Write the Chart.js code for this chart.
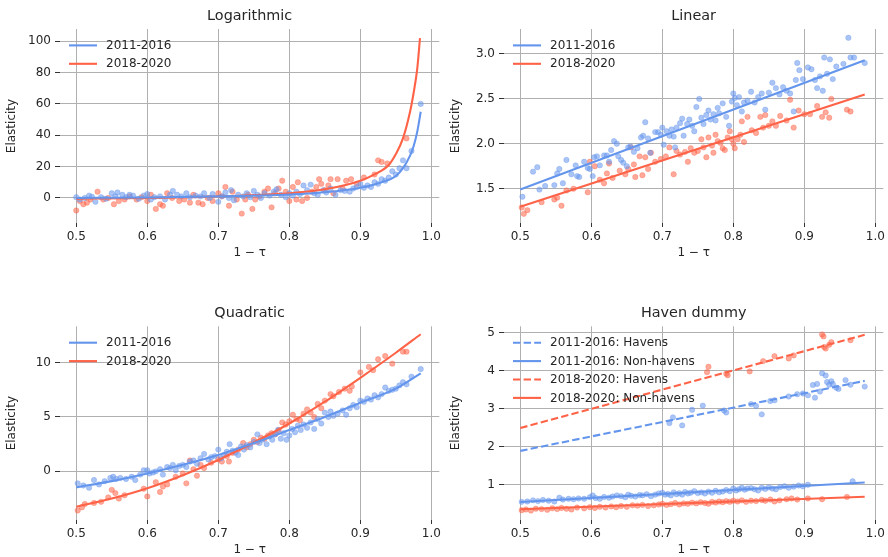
<!DOCTYPE html>
<html>
<head>
<meta charset="utf-8">
<script src="https://cdn.jsdelivr.net/npm/chart.js@4.4.1/dist/chart.umd.min.js"></script>
<style>
  body { margin: 0; background: #fff; width: 888px; height: 557px; position: relative; overflow: hidden; }
  canvas { position: absolute; }
</style>
</head>
<body>
<canvas id="logChart" width="444" height="278" style="left:0;top:0"></canvas>
<canvas id="linChart" width="444" height="278" style="left:444px;top:0"></canvas>
<canvas id="quadChart" width="444" height="279" style="left:0;top:278px"></canvas>
<canvas id="havenChart" width="444" height="279" style="left:444px;top:278px"></canvas>
<script>
// ---- data ----
const xTicks = [0.5, 0.6, 0.7, 0.8, 0.9, 1.0];
const logTicks = [0, 20, 40, 60, 80, 100];
const linTicks = [1.5, 2.0, 2.5, 3.0];
const quadTicks = [0, 5, 10];
const havenTicks = [1, 2, 3, 4, 5];

// Logarithmic
const logFit2011 = [[0.5,0],[0.6,0.3],[0.7,1],[0.8,2.2],[0.85,3.6],[0.9,6.5],[0.93,10],[0.95,14],[0.96,19],[0.97,27],[0.975,33],[0.98,42],[0.985,55]];
const logFit2018 = [[0.5,-0.5],[0.6,0],[0.7,1],[0.8,3],[0.85,5.5],[0.9,11],[0.92,15],[0.94,21],[0.95,28],[0.96,38],[0.97,55],[0.975,67],[0.98,82],[0.984,102]];
const logPts2011 = [[0.500,0.5],[0.505,-1],[0.512,0],[0.518,1.5],[0.522,0.8],[0.527,-2.5],[0.535,0.5],[0.542,-0.5],[0.550,3],[0.555,1],[0.558,3.5],[0.565,2],[0.570,0.5],[0.575,2],[0.580,1.5],[0.588,-0.5],[0.595,1.5],[0.600,2.5],[0.605,-1],[0.610,0.5],[0.618,1],[0.625,-1],[0.632,2],[0.636,4.5],[0.642,2],[0.648,1],[0.655,3],[0.660,0.5],[0.668,1.5],[0.675,1],[0.680,3],[0.688,0],[0.692,2.5],[0.700,-2.5],[0.705,1],[0.710,3.5],[0.715,0],[0.718,5],[0.722,-1.5],[0.728,2],[0.735,1],[0.740,3],[0.745,0.5],[0.750,4.5],[0.755,2],[0.760,0],[0.765,3],[0.772,1.5],[0.778,4],[0.782,5.5],[0.788,2],[0.795,0.5],[0.800,3],[0.805,1.5],[0.810,4],[0.815,2.5],[0.820,8],[0.825,5],[0.830,8.5],[0.835,3],[0.840,2],[0.848,5],[0.852,3.5],[0.858,6],[0.865,2],[0.872,5],[0.878,4.5],[0.885,4],[0.890,6],[0.895,7],[0.900,9],[0.905,6.5],[0.910,8],[0.915,7],[0.920,10],[0.925,9],[0.930,12],[0.935,11],[0.940,13],[0.945,17],[0.950,15],[0.955,19],[0.960,24],[0.965,19],[0.972,30],[0.985,60]];
const logPts2018 = [[0.500,-8],[0.505,-2],[0.510,-4],[0.515,-3],[0.520,-1],[0.530,4],[0.538,-1],[0.545,0],[0.553,-4],[0.560,-2],[0.568,-1],[0.575,1],[0.585,-1],[0.592,0.5],[0.600,-2],[0.605,2],[0.612,-7],[0.618,-4],[0.622,-5],[0.628,3],[0.635,0],[0.645,-2],[0.652,-1],[0.660,-3],[0.665,2],[0.672,-3],[0.678,-4],[0.685,0],[0.692,-2],[0.700,3],[0.705,1],[0.710,7],[0.715,-5],[0.720,4],[0.726,-1],[0.733,-10],[0.738,-1],[0.742,2],[0.748,-7],[0.752,-1],[0.758,1],[0.765,4],[0.770,6],[0.775,-6],[0.780,3],[0.785,6],[0.790,11],[0.795,4],[0.800,-2],[0.805,7],[0.810,-1],[0.812,10],[0.818,-2],[0.825,0],[0.832,4],[0.838,7],[0.842,12],[0.845,9],[0.850,5],[0.855,8],[0.858,12],[0.862,3],[0.868,12],[0.875,6],[0.880,11],[0.887,12],[0.895,9],[0.905,13],[0.920,15],[0.925,24],[0.930,23],[0.938,22],[0.965,38]];

// Linear
const linFit2011 = [[0.5,1.49],[0.985,2.93]];
const linFit2018 = [[0.5,1.30],[0.985,2.55]];
const linPts2011 = [[0.503,1.41],[0.518,1.69],[0.524,1.74],[0.527,1.49],[0.535,1.53],[0.548,1.54],[0.552,1.67],[0.555,1.72],[0.560,1.56],[0.565,1.82],[0.572,1.66],[0.578,1.76],[0.580,1.64],[0.583,1.63],[0.590,1.80],[0.595,1.73],[0.598,1.72],[0.602,1.64],[0.604,1.85],[0.608,1.86],[0.612,1.76],[0.618,1.87],[0.622,1.87],[0.625,1.80],[0.628,1.93],[0.632,2.03],[0.636,2.00],[0.638,1.86],[0.642,1.82],[0.645,1.79],[0.650,1.75],[0.652,1.96],[0.655,1.97],[0.660,1.91],[0.665,1.95],[0.670,2.07],[0.673,2.09],[0.676,2.24],[0.680,2.06],[0.683,1.90],[0.690,2.13],[0.694,2.13],[0.698,2.10],[0.700,2.18],[0.702,1.99],[0.706,2.14],[0.710,2.09],[0.713,2.16],[0.716,2.08],[0.718,1.96],[0.720,2.18],[0.725,2.23],[0.728,2.28],[0.730,2.09],[0.735,2.22],[0.738,2.27],[0.742,2.20],[0.745,2.14],[0.748,2.41],[0.752,2.50],[0.755,2.29],[0.758,2.22],[0.762,2.32],[0.765,2.37],[0.768,2.27],[0.772,2.33],[0.775,2.26],[0.778,2.40],[0.780,2.34],[0.785,2.45],[0.790,2.30],[0.794,2.20],[0.798,2.47],[0.800,2.56],[0.802,2.51],[0.805,2.43],[0.808,2.52],[0.812,2.36],[0.815,2.46],[0.820,2.48],[0.825,2.58],[0.830,2.46],[0.835,2.52],[0.840,2.56],[0.845,2.38],[0.850,2.57],[0.855,2.68],[0.860,2.62],[0.865,2.55],[0.870,2.63],[0.875,2.59],[0.880,2.56],[0.885,2.36],[0.888,2.71],[0.890,2.90],[0.893,2.82],[0.898,2.72],[0.905,2.85],[0.910,2.83],[0.915,2.71],[0.918,2.62],[0.922,2.75],[0.926,2.59],[0.928,2.96],[0.932,2.78],[0.936,2.94],[0.940,2.72],[0.945,2.86],[0.955,2.89],[0.962,3.18],[0.965,2.96],[0.970,2.96],[0.985,2.90]];
const linPts2018 = [[0.502,1.29],[0.505,1.22],[0.510,1.26],[0.530,1.35],[0.548,1.38],[0.552,1.40],[0.558,1.31],[0.565,1.48],[0.575,1.50],[0.595,1.46],[0.598,1.80],[0.605,1.75],[0.612,1.60],[0.618,1.56],[0.622,1.67],[0.625,1.78],[0.630,1.62],[0.640,1.70],[0.648,1.66],[0.652,1.72],[0.656,1.96],[0.660,1.77],[0.662,1.63],[0.668,1.86],[0.672,1.65],[0.676,1.85],[0.680,1.72],[0.684,1.90],[0.690,1.80],[0.698,1.83],[0.705,1.86],[0.710,1.96],[0.716,1.66],[0.720,1.92],[0.725,1.88],[0.732,1.91],[0.736,1.80],[0.740,1.95],[0.745,1.90],[0.750,1.92],[0.755,2.05],[0.758,1.96],[0.762,1.85],[0.765,2.07],[0.770,1.98],[0.772,1.90],[0.775,2.10],[0.778,2.03],[0.782,2.01],[0.785,1.95],[0.788,1.93],[0.792,2.07],[0.795,2.14],[0.798,2.05],[0.800,2.00],[0.802,1.95],[0.806,2.05],[0.810,2.10],[0.812,2.25],[0.815,2.02],[0.820,2.30],[0.826,2.15],[0.832,2.12],[0.838,2.30],[0.842,2.18],[0.845,2.32],[0.850,2.20],[0.855,2.25],[0.860,2.20],[0.866,2.31],[0.875,2.26],[0.880,2.49],[0.885,2.18],[0.892,2.37],[0.900,2.33],[0.908,2.33],[0.918,2.42],[0.925,2.30],[0.930,2.35],[0.935,2.29],[0.938,2.50],[0.960,2.38],[0.965,2.36]];

// Quadratic
const quadFit2011 = [[0.5,-1.47],[0.55,-0.9],[0.6,-0.2],[0.65,0.6],[0.7,1.5],[0.75,2.6],[0.8,3.8],[0.85,5.0],[0.9,6.3],[0.95,7.6],[0.985,9.0]];
const quadFit2018 = [[0.5,-3.25],[0.55,-2.5],[0.6,-1.55],[0.65,-0.35],[0.7,1.05],[0.75,2.65],[0.8,4.4],[0.85,6.4],[0.9,8.6],[0.95,10.9],[0.985,12.6]];
const quadPts2011 = [[0.502,-1.1],[0.510,-1.3],[0.518,-1.5],[0.525,-0.8],[0.532,-1.2],[0.540,-0.9],[0.548,-0.6],[0.552,-0.5],[0.556,-0.7],[0.562,-0.6],[0.570,-0.7],[0.578,-0.5],[0.583,-0.8],[0.590,-0.3],[0.595,0.1],[0.600,0.1],[0.603,-0.2],[0.608,-0.1],[0.612,0.0],[0.618,0.2],[0.622,-0.3],[0.628,0.4],[0.632,0.3],[0.636,0.6],[0.640,0.1],[0.645,0.5],[0.650,0.6],[0.655,0.4],[0.660,0.9],[0.665,1.0],[0.670,0.7],[0.675,1.2],[0.680,1.6],[0.686,1.1],[0.690,1.3],[0.695,1.4],[0.700,2.0],[0.704,1.2],[0.708,1.5],[0.712,1.8],[0.716,2.5],[0.720,1.9],[0.724,1.7],[0.728,1.5],[0.732,2.3],[0.736,2.0],[0.740,2.4],[0.745,2.2],[0.750,2.7],[0.755,3.4],[0.758,2.6],[0.762,2.9],[0.768,2.5],[0.772,3.2],[0.776,2.9],[0.780,3.4],[0.784,3.8],[0.788,3.0],[0.792,3.5],[0.796,2.9],[0.800,3.3],[0.804,3.9],[0.808,3.6],[0.812,4.2],[0.816,3.8],[0.820,4.3],[0.825,4.0],[0.830,4.5],[0.835,3.9],[0.840,4.8],[0.845,4.4],[0.850,5.4],[0.855,5.0],[0.858,5.5],[0.862,5.1],[0.868,5.3],[0.875,5.6],[0.880,5.2],[0.885,5.8],[0.890,6.1],[0.895,5.9],[0.900,6.5],[0.905,6.4],[0.910,6.7],[0.915,6.6],[0.920,7.0],[0.925,6.8],[0.930,7.1],[0.935,7.7],[0.940,7.4],[0.945,7.5],[0.950,7.6],[0.955,7.9],[0.960,8.2],[0.965,8.0],[0.972,8.7],[0.985,9.4]];
const quadPts2018 = [[0.502,-3.6],[0.508,-3.3],[0.512,-3.0],[0.525,-2.9],[0.535,-2.8],[0.545,-2.4],[0.550,-1.7],[0.555,-2.0],[0.560,-2.5],[0.568,-2.2],[0.595,-1.6],[0.600,-2.3],[0.612,-1.0],[0.618,-1.9],[0.622,-1.4],[0.628,-1.2],[0.640,-0.5],[0.650,-0.2],[0.655,-1.1],[0.660,1.0],[0.665,0.2],[0.670,-0.4],[0.675,0.6],[0.680,0.3],[0.690,0.8],[0.700,1.1],[0.705,0.9],[0.712,1.4],[0.715,0.9],[0.720,1.7],[0.728,2.0],[0.735,2.6],[0.740,2.2],[0.745,2.5],[0.750,2.9],[0.755,2.7],[0.760,3.1],[0.765,3.0],[0.770,3.3],[0.775,3.5],[0.780,3.4],[0.785,3.8],[0.790,4.5],[0.795,4.3],[0.800,4.6],[0.805,5.2],[0.810,4.8],[0.815,4.7],[0.820,5.3],[0.825,5.7],[0.830,5.4],[0.835,5.0],[0.840,6.2],[0.845,5.8],[0.850,6.5],[0.858,7.1],[0.862,6.9],[0.870,7.3],[0.878,7.6],[0.885,7.4],[0.888,7.8],[0.900,9.1],[0.912,9.6],[0.918,9.3],[0.925,10.3],[0.935,10.6],[0.945,9.9],[0.960,11.0],[0.965,11.0]];

// Haven dummy
const havenFit2011H = [[0.5,1.89],[0.985,3.73]];
const havenFit2011N = [[0.5,0.546],[0.985,1.06]];
const havenFit2018H = [[0.5,2.49],[0.985,4.94]];
const havenFit2018N = [[0.5,0.354],[0.985,0.685]];
const havenPts2011H = [[0.710,2.62],[0.715,2.77],[0.728,2.56],[0.742,2.97],[0.757,3.08],[0.787,2.95],[0.790,2.90],[0.825,3.12],[0.832,3.07],[0.840,2.85],[0.852,3.20],[0.858,3.22],[0.878,3.32],[0.890,3.38],[0.898,3.40],[0.905,3.35],[0.912,3.62],[0.915,3.29],[0.918,3.65],[0.922,3.45],[0.925,3.93],[0.930,3.87],[0.932,3.70],[0.935,3.63],[0.938,3.72],[0.940,3.65],[0.945,3.55],[0.948,3.52],[0.958,3.75],[0.965,3.63],[0.985,3.58]];
const havenPts2018H = [[0.763,3.96],[0.765,4.10],[0.790,3.92],[0.792,3.88],[0.823,3.98],[0.842,4.25],[0.858,4.38],[0.878,4.32],[0.885,4.40],[0.925,4.95],[0.927,4.90],[0.928,4.62],[0.930,4.58],[0.935,4.68],[0.938,4.75],[0.965,4.80]];
const havenPts2011N = [[0.502,0.55],[0.510,0.56],[0.518,0.59],[0.525,0.57],[0.532,0.60],[0.540,0.58],[0.548,0.56],[0.555,0.66],[0.560,0.61],[0.568,0.63],[0.575,0.62],[0.582,0.64],[0.590,0.63],[0.598,0.67],[0.602,0.72],[0.606,0.65],[0.612,0.63],[0.618,0.68],[0.625,0.66],[0.630,0.69],[0.636,0.72],[0.642,0.70],[0.648,0.67],[0.652,0.74],[0.656,0.71],[0.662,0.69],[0.668,0.73],[0.672,0.72],[0.678,0.75],[0.684,0.70],[0.690,0.74],[0.695,0.77],[0.700,0.79],[0.704,0.74],[0.708,0.76],[0.712,0.72],[0.716,0.80],[0.720,0.75],[0.724,0.78],[0.728,0.74],[0.732,0.81],[0.736,0.77],[0.740,0.79],[0.745,0.83],[0.750,0.78],[0.755,0.80],[0.760,0.77],[0.765,0.82],[0.770,0.79],[0.775,0.84],[0.780,0.80],[0.785,0.82],[0.790,0.86],[0.795,0.83],[0.800,0.90],[0.804,0.85],[0.808,0.88],[0.812,0.92],[0.816,0.87],[0.820,0.90],[0.825,0.91],[0.830,0.88],[0.835,0.85],[0.840,0.92],[0.845,0.89],[0.850,0.93],[0.855,0.90],[0.860,0.88],[0.866,0.94],[0.872,0.96],[0.878,0.92],[0.885,0.95],[0.892,0.98],[0.898,0.96],[0.905,1.00],[0.968,1.09]];
const havenPts2018N = [[0.502,0.33],[0.508,0.35],[0.515,0.32],[0.522,0.37],[0.530,0.36],[0.538,0.34],[0.545,0.38],[0.552,0.36],[0.558,0.39],[0.565,0.37],[0.572,0.35],[0.580,0.40],[0.590,0.38],[0.598,0.41],[0.605,0.39],[0.612,0.42],[0.620,0.40],[0.628,0.43],[0.635,0.41],[0.642,0.44],[0.650,0.42],[0.658,0.46],[0.665,0.45],[0.672,0.47],[0.680,0.44],[0.688,0.46],[0.695,0.48],[0.700,0.50],[0.706,0.47],[0.712,0.49],[0.718,0.52],[0.724,0.48],[0.730,0.51],[0.736,0.50],[0.742,0.53],[0.748,0.51],[0.754,0.54],[0.760,0.52],[0.765,0.50],[0.770,0.55],[0.775,0.53],[0.780,0.56],[0.785,0.54],[0.790,0.57],[0.795,0.55],[0.800,0.58],[0.806,0.56],[0.812,0.59],[0.818,0.55],[0.825,0.58],[0.832,0.57],[0.840,0.60],[0.845,0.58],[0.852,0.61],[0.858,0.56],[0.865,0.59],[0.875,0.62],[0.882,0.64],[0.890,0.61],[0.905,0.64],[0.925,0.62],[0.960,0.68]];

// ---- styling ----
const BLUE = '#6495ED';
const RED = '#FF6347';
const BLUE_PT = 'rgba(100,149,237,0.55)';
const RED_PT = 'rgba(255,99,71,0.55)';
const TEXT = '#262626';
const DASH = [7.4, 3.2];
Chart.defaults.font.family = 'DejaVu Sans';
Chart.defaults.font.size = 12;
Chart.defaults.color = TEXT;

const toXY = pts => pts.map(p => ({ x: p[0], y: p[1] }));

function fitLine(label, pts, color, dash) {
  return {
    label: label, data: toXY(pts), showLine: true, borderColor: color, borderWidth: 2.1,
    borderDash: dash || [], pointRadius: 0, cubicInterpolationMode: 'monotone', fill: false
  };
}
function dots(pts, color) {
  return { data: toXY(pts), showLine: false, pointRadius: 2.7, pointBorderWidth: 0.6, backgroundColor: color, borderColor: color };
}

// title + legend drawn over the plot like matplotlib does
const panelDecor = {
  id: 'panelDecor',
  afterDraw(chart, args, opts) {
    const { ctx, chartArea: a } = chart;
    ctx.save();
    ctx.fillStyle = TEXT;
    ctx.font = '14.4px "DejaVu Sans"';
    ctx.textAlign = 'center';
    ctx.textBaseline = 'middle';
    ctx.fillText(opts.title, (a.left + a.right) / 2, opts.titleY);
    ctx.font = '12px "DejaVu Sans"';
    ctx.textAlign = 'left';
    const items = chart.data.datasets.filter(d => d.showLine);
    items.forEach((d, i) => {
      const y = a.top + 16.4 + i * 18.4;
      ctx.strokeStyle = d.borderColor;
      ctx.lineWidth = 2.1;
      ctx.setLineDash(d.borderDash);
      ctx.beginPath();
      ctx.moveTo(a.left + 9, y);
      ctx.lineTo(a.left + 37, y);
      ctx.stroke();
      ctx.fillText(d.label, a.left + 46, y + 0.5);
    });
    ctx.restore();
  }
};

function makePanel(id, p) {
  const canvas = document.getElementById(id);
  const H = canvas.height;
  const grid = { color: '#b0b0b0', lineWidth: 1, tickColor: '#333', tickLength: 4 };
  return new Chart(canvas, {
    type: 'scatter',
    data: { datasets: p.datasets },
    options: {
      responsive: false,
      animation: false,
      devicePixelRatio: 1,
      layout: { padding: { top: p.plotTop, right: 4, left: 0, bottom: 0 } },
      plugins: {
        legend: { display: false },
        tooltip: { enabled: false },
        panelDecor: { title: p.title, titleY: p.titleY }
      },
      scales: {
        x: {
          type: 'linear', min: 0.4771, max: 1.0112, bounds: 'data',
          afterBuildTicks: s => { s.ticks = xTicks.map(v => ({ value: v })); },
          afterFit: s => { s.height = H - p.plotBottom; },
          grid: grid,
          border: { display: false },
          ticks: { padding: 3, callback: v => v.toFixed(1) },
          title: { display: true, text: '1 − τ', padding: { top: 0, bottom: p.xTitlePad } }
        },
        y: {
          type: 'linear', min: p.yMin, max: p.yMax, bounds: 'data',
          afterBuildTicks: s => { s.ticks = p.yTicks.map(v => ({ value: v })); },
          afterFit: s => { s.width = 60; },
          grid: Object.assign({}, grid, { tickLength: 5 }),
          border: { display: false },
          ticks: { padding: 4, callback: v => v.toFixed(p.yDigits) },
          title: { display: true, text: 'Elasticity', padding: { top: 4.8, bottom: 0 } }
        }
      }
    },
    plugins: [panelDecor]
  });
}

makePanel('logChart', {
  title: 'Logarithmic', titleY: 16.7, plotTop: 29, plotBottom: 223, xTitlePad: 17.8,
  yMin: -16, yMax: 107.85, yTicks: logTicks, yDigits: 0,
  datasets: [
    fitLine('2011-2016', logFit2011, BLUE),
    fitLine('2018-2020', logFit2018, RED),
    dots(logPts2011, BLUE_PT),
    dots(logPts2018, RED_PT)
  ]
});

makePanel('linChart', {
  title: 'Linear', titleY: 16.7, plotTop: 29, plotBottom: 223, xTitlePad: 17.8,
  yMin: 1.118, yMax: 3.278, yTicks: linTicks, yDigits: 1,
  datasets: [
    fitLine('2011-2016', linFit2011, BLUE),
    fitLine('2018-2020', linFit2018, RED),
    dots(linPts2011, BLUE_PT),
    dots(linPts2018, RED_PT)
  ]
});

makePanel('quadChart', {
  title: 'Quadratic', titleY: 35, plotTop: 48.3, plotBottom: 242, xTitlePad: 0,
  yMin: -4.47, yMax: 13.33, yTicks: quadTicks, yDigits: 0,
  datasets: [
    fitLine('2011-2016', quadFit2011, BLUE),
    fitLine('2018-2020', quadFit2018, RED),
    dots(quadPts2011, BLUE_PT),
    dots(quadPts2018, RED_PT)
  ]
});

makePanel('havenChart', {
  title: 'Haven dummy', titleY: 35, plotTop: 48.3, plotBottom: 242, xTitlePad: 0,
  yMin: 0.073, yMax: 5.165, yTicks: havenTicks, yDigits: 0,
  datasets: [
    fitLine('2011-2016: Havens', havenFit2011H, BLUE, DASH),
    fitLine('2011-2016: Non-havens', havenFit2011N, BLUE),
    fitLine('2018-2020: Havens', havenFit2018H, RED, DASH),
    fitLine('2018-2020: Non-havens', havenFit2018N, RED),
    dots(havenPts2011H, BLUE_PT),
    dots(havenPts2011N, BLUE_PT),
    dots(havenPts2018H, RED_PT),
    dots(havenPts2018N, RED_PT)
  ]
});
</script>
</body>
</html>
